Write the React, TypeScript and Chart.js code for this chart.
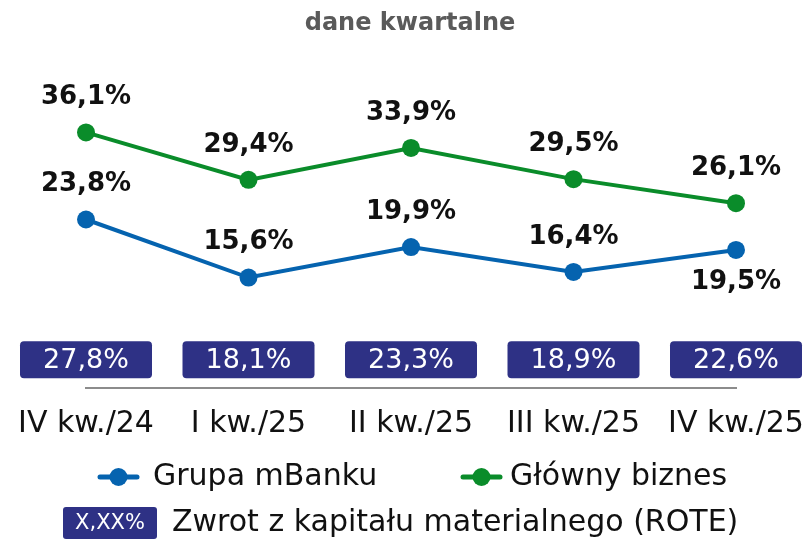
import React, { useEffect, useRef } from "react";
import { Chart, registerables } from "chart.js";

Chart.register(...registerables);

const categories = ["IV kw./24", "I kw./25", "II kw./25", "III kw./25", "IV kw./25"];
const grupaMBanku = [23.8, 15.6, 19.9, 16.4, 19.5];
const glownyBiznes = [36.1, 29.4, 33.9, 29.5, 26.1];
const rote = [27.8, 18.1, 23.3, 18.9, 22.6];
const blueLabelsBelow = [false, false, false, false, true];

const BLUE = "#0563AF";
const GREEN = "#0A8C2A";
const PURPLE = "#2E3185";
const FONT = "'DejaVu Sans', sans-serif";

const fmt = (v: number) => v.toFixed(1).replace(".", ",") + "%";

const customPlugin = {
  id: "custom",
  afterDatasetsDraw(chart: any) {
    const ctx = chart.ctx as CanvasRenderingContext2D;
    const x = chart.scales.x;
    const y = chart.scales.y;
    ctx.save();
    // title
    ctx.fillStyle = "#5A5A5A";
    ctx.font = `bold 24px ${FONT}`;
    ctx.textAlign = "center";
    ctx.textBaseline = "middle";
    ctx.fillText("dane kwartalne", 410, 24);

    // data labels
    ctx.fillStyle = "#111111";
    ctx.font = `bold 26px ${FONT}`;
    chart.data.datasets.forEach((ds: any, di: number) => {
      const meta = chart.getDatasetMeta(di);
      meta.data.forEach((pt: any, i: number) => {
        const below = di === 0 && blueLabelsBelow[i];
        ctx.textBaseline = "middle";
        const yy = below ? pt.y + 32 : pt.y - 35;
        ctx.fillText(fmt(ds.data[i]), pt.x, yy);
      });
    });

    // ROTE boxes
    const boxY = y.getPixelForValue(4);
    rote.forEach((v, i) => {
      const cx = x.getPixelForValue(i);
      const w = 132, h = 37;
      ctx.fillStyle = PURPLE;
      ctx.beginPath();
      (ctx as any).roundRect(cx - w / 2, boxY - h / 2, w, h, 4);
      ctx.fill();
      ctx.fillStyle = "#FFFFFF";
      ctx.font = `500 27px ${FONT}`;
      ctx.textBaseline = "middle";
      ctx.fillText(fmt(v), cx, boxY + 1);
    });

    // legend row 1
    const drawMarker = (lx: number, ly: number, color: string) => {
      ctx.strokeStyle = color;
      ctx.lineWidth = 5;
      ctx.lineCap = "round";
      ctx.beginPath();
      ctx.moveTo(lx, ly);
      ctx.lineTo(lx + 37, ly);
      ctx.stroke();
      ctx.fillStyle = color;
      ctx.beginPath();
      ctx.arc(lx + 18.5, ly, 9, 0, Math.PI * 2);
      ctx.fill();
    };
    const ly1 = 477;
    ctx.textAlign = "left";
    ctx.font = `400 30px ${FONT}`;
    drawMarker(100, ly1, BLUE);
    ctx.fillStyle = "#111111";
    ctx.fillText(chart.data.datasets[0].label, 153, ly1);
    drawMarker(463, ly1, GREEN);
    ctx.fillStyle = "#111111";
    ctx.fillText(chart.data.datasets[1].label, 510, ly1);

    // legend row 2
    const ly2 = 523;
    ctx.fillStyle = PURPLE;
    ctx.beginPath();
    (ctx as any).roundRect(63, ly2 - 16, 94, 32, 3);
    ctx.fill();
    ctx.fillStyle = "#FFFFFF";
    ctx.font = `500 21px ${FONT}`;
    ctx.textAlign = "center";
    ctx.fillText("X,XX%", 110, ly2 + 1);
    ctx.fillStyle = "#111111";
    ctx.textAlign = "left";
    ctx.font = `400 30px ${FONT}`;
    ctx.fillText("Zwrot z kapitału materialnego (ROTE)", 172, ly2);
    ctx.restore();
  },
};

export default function App() {
  const ref = useRef<HTMLCanvasElement | null>(null);
  useEffect(() => {
    if (!ref.current) return;
    const chart = new Chart(ref.current, {
      type: "line",
      data: {
        labels: categories,
        datasets: [
          {
            label: "Grupa mBanku",
            data: grupaMBanku,
            borderColor: BLUE,
            backgroundColor: BLUE,
            borderWidth: 4,
            pointRadius: 9,
            pointHoverRadius: 9,
            pointBorderWidth: 0,
            tension: 0,
          },
          {
            label: "Główny biznes",
            data: glownyBiznes,
            borderColor: GREEN,
            backgroundColor: GREEN,
            borderWidth: 4,
            pointRadius: 9,
            pointHoverRadius: 9,
            pointBorderWidth: 0,
            tension: 0,
          },
        ],
      },
      options: {
        responsive: true,
        maintainAspectRatio: false,
        animation: false,
        layout: { padding: { left: 86, right: 74, top: 34, bottom: 81 } },
        plugins: { legend: { display: false }, tooltip: { enabled: false }, title: { display: false } },
        scales: {
          x: {
            offset: false,
            grid: { display: false, drawTicks: false },
            border: { display: true, color: "#8C8C8C", width: 2 },
            ticks: { color: "#111111", font: { family: "'DejaVu Sans', sans-serif", size: 30 }, padding: 18, maxRotation: 0, autoSkip: false },
            afterFit: (scale: any) => {
              scale.paddingLeft = 0;
              scale.paddingRight = 0;
            },
          },
          y: { display: false, min: 0, max: 50 },
        },
      },
      plugins: [customPlugin],
    });
    return () => chart.destroy();
  }, []);
  return (
    <div style={{ position: "fixed", left: 0, top: 0, width: 810, height: 541, background: "#fff" }}>
      <canvas ref={ref} />
    </div>
  );
}
